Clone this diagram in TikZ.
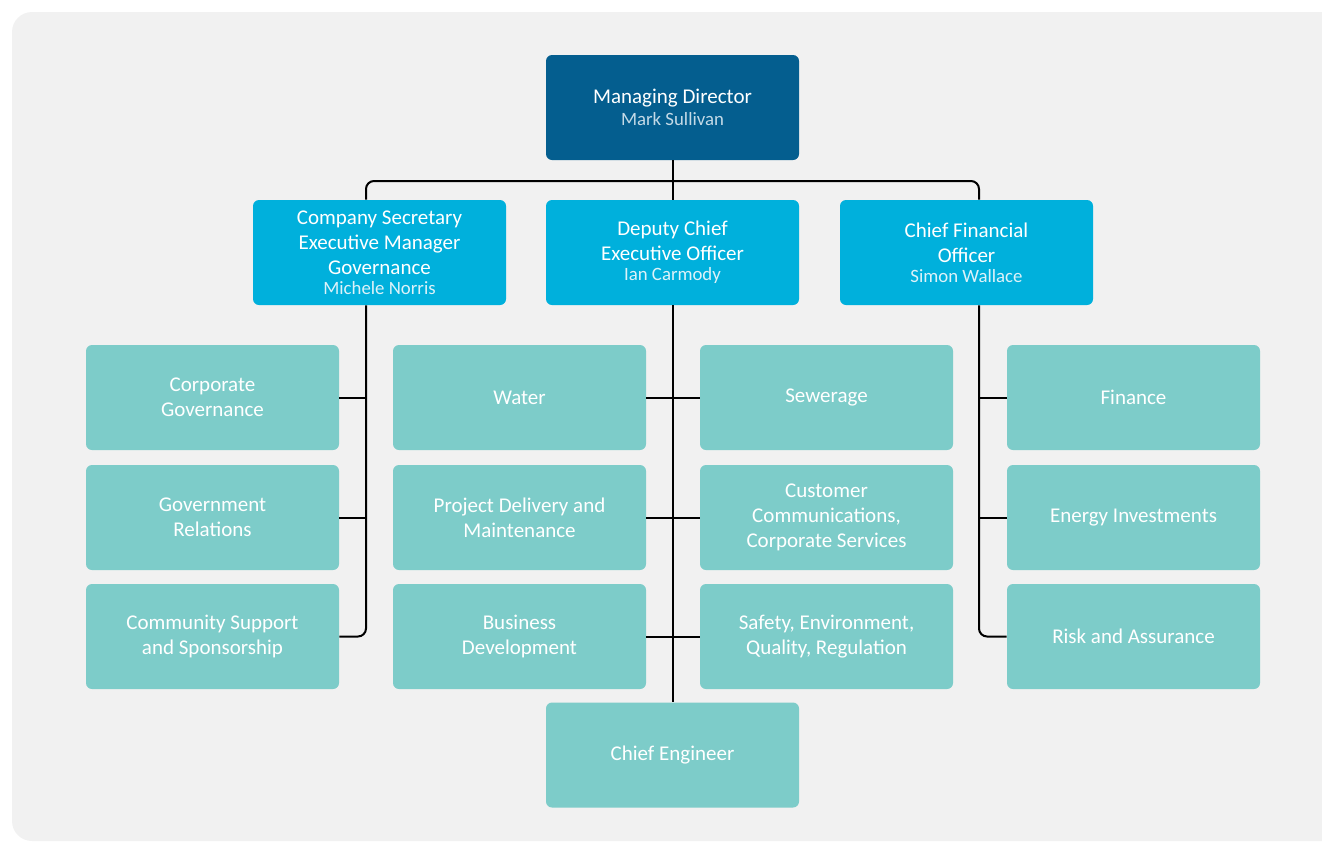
\documentclass[tikz,border=0pt]{standalone}
\usepackage{fontspec}
\setmainfont{Carlito}
\usepackage{tikz}

\definecolor{bgGray}{HTML}{F1F1F1}
\definecolor{mdBlue}{HTML}{045E8F}
\definecolor{execCyan}{HTML}{00B0DC}
\definecolor{unitTeal}{HTML}{7DCCC9}
\definecolor{mdName}{HTML}{C4DAE7}
\definecolor{execName}{HTML}{DDF2F9}

\tikzset{
  box/.style={rounded corners=3pt, minimum width=126.5pt, minimum height=52.5pt,
    text=white, align=center, font=\fontsize{10.5}{12.5}\selectfont, inner sep=2pt},
  mdbox/.style={box, fill=mdBlue},
  execbox/.style={box, fill=execCyan},
  unitbox/.style={box, fill=unitTeal},
  conn/.style={line width=1pt, black},
}
\newcommand{\person}[2]{{\color{#1}\fontsize{9.4}{10}\selectfont #2}}

\begin{document}
\begin{tikzpicture}[x=0.5pt, y=-0.5pt]
    \useasboundingbox (0,0) rectangle (1322,841);

    % Draw the background panel
    \fill[bgGray, rounded corners=10pt] (12,12) rectangle (1350,841);

    % Draw the top box
    \node[mdbox] (md) at (672.5,107.5) {Managing Director\\[-1.5pt]\person{mdName}{Mark Sullivan}};

    % Draw the executive boxes
    \node[execbox] (cs) at (379.5,252.5) {Company Secretary\\Executive Manager\\Governance\\[-2.5pt]\person{execName}{Michele Norris}};
    \node[execbox] (dceo) at (672.5,252.5) {Deputy Chief\\Executive Officer\\[-2.5pt]\person{execName}{Ian Carmody}};
    \node[execbox] (cfo) at (966.5,252.5) {Chief Financial\\Officer\\[-2.5pt]\person{execName}{Simon Wallace}};

    % Draw the governance units
    \node[unitbox] (corpgov) at (212.5,397.5) {Corporate\\Governance};
    \node[unitbox] (govrel) at (212.5,517.5) {Government\\Relations};
    \node[unitbox] (community) at (212.5,636.5) {Community Support\\and Sponsorship};

    % Draw the operations units
    \node[unitbox] (water) at (519.5,397.5) {Water};
    \node[unitbox] (projects) at (519.5,517.5) {Project Delivery and\\Maintenance};
    \node[unitbox] (business) at (519.5,636.5) {Business\\Development};
    \node[unitbox] (sewerage) at (826.5,397.5) {Sewerage};
    \node[unitbox] (customer) at (826.5,517.5) {Customer\\Communications,\\Corporate Services};
    \node[unitbox] (safety) at (826.5,636.5) {Safety, Environment,\\Quality, Regulation};
    \node[unitbox] (engineer) at (672.5,755) {Chief Engineer};

    % Draw the finance units
    \node[unitbox] (finance) at (1133.5,397.5) {Finance};
    \node[unitbox] (energy) at (1133.5,517.5) {Energy Investments};
    \node[unitbox] (risk) at (1133.5,636.5) {Risk and Assurance};

    % Spine coordinates
    \coordinate (spineL) at (366,181);
    \coordinate (spineR) at (979,181);

    % Draw the top connectors
    \draw[conn] (md.south) -- (dceo.north);
    \draw[conn, rounded corners=4pt] (spineL |- cs.north) -- (spineL) -- (spineR) -- (spineR |- cfo.north);

    % Draw the left branch
    \draw[conn, rounded corners=4pt] (spineL |- cs.south) -- (spineL |- community.east) -- (community.east);
    \draw[conn] (spineL |- corpgov.east) -- (corpgov.east);
    \draw[conn] (spineL |- govrel.east) -- (govrel.east);

    % Draw the middle branch
    \draw[conn] (dceo.south) -- (engineer.north);
    \draw[conn] (water.east) -- (sewerage.west);
    \draw[conn] (projects.east) -- (customer.west);
    \draw[conn] (business.east) -- (safety.west);

    % Draw the right branch
    \draw[conn, rounded corners=4pt] (spineR |- cfo.south) -- (spineR |- risk.west) -- (risk.west);
    \draw[conn] (spineR |- finance.west) -- (finance.west);
    \draw[conn] (spineR |- energy.west) -- (energy.west);
\end{tikzpicture}
\end{document}
